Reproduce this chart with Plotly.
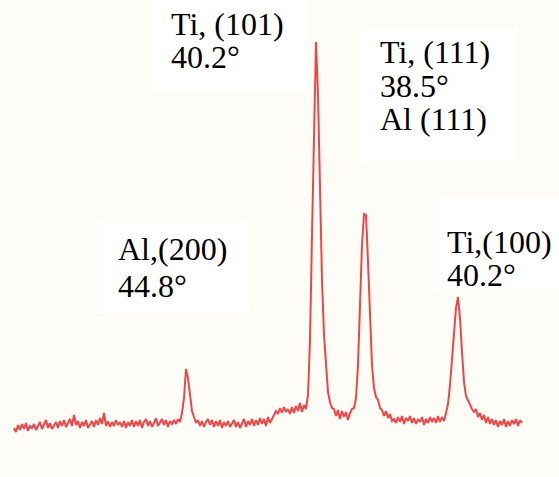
import numpy as np
import plotly.graph_objects as go

# Scan channel positions (uniform grid) and measured intensities (counts)
channel = np.arange(14, 523, 2)
intensity = [
    49, 45, 52, 47, 53, 48, 54, 46, 51, 49,
    53, 47, 51, 55, 48, 52, 57, 49, 54, 48,
    52, 55, 49, 56, 51, 57, 50, 54, 58, 51,
    62, 52, 56, 49, 55, 51, 57, 49, 53, 56,
    50, 57, 52, 59, 53, 64, 51, 56, 50, 55,
    51, 57, 52, 55, 50, 56, 49, 55, 51, 57,
    50, 56, 51, 57, 49, 55, 58, 51, 56, 50,
    54, 59, 51, 55, 58, 52, 57, 50, 56, 53,
    57, 53, 58, 55, 64, 79, 108, 99, 79, 66,
    60, 54, 57, 51, 56, 50, 55, 58, 52, 57,
    50, 56, 51, 57, 49, 55, 51, 56, 50, 54,
    57, 50, 55, 49, 54, 58, 50, 56, 52, 58,
    51, 57, 52, 59, 53, 58, 51, 60, 54, 59,
    62, 66, 63, 69, 64, 70, 65, 68, 63, 70,
    64, 71, 66, 74, 65, 72, 68, 82, 137, 242,
    357, 435, 382, 277, 197, 142, 107, 85, 75, 69,
    68, 61, 67, 58, 66, 60, 65, 57, 64, 68,
    69, 79, 112, 177, 232, 263, 262, 215, 157, 112,
    89, 80, 77, 69, 67, 61, 66, 59, 63, 56,
    58, 54, 60, 55, 61, 53, 59, 56, 61, 54,
    59, 53, 58, 55, 60, 52, 58, 54, 60, 55,
    59, 54, 61, 55, 60, 56, 64, 73, 92, 115,
    139, 169, 180, 159, 125, 95, 81, 76, 73, 68,
    65, 68, 60, 64, 57, 62, 54, 60, 53, 58,
    52, 57, 50, 56, 52, 58, 50, 56, 51, 57,
    53, 58, 51, 57, 54,
]

# Peak labels: (text lines, left x, line-centre heights)
peak_labels = [
    (["Ti, (101)", "40.2°"], 170, [453, 420]),
    (["Ti, (111)", "38.5°", "Al (111)"], 379, [425, 391, 358]),
    (["Ti,(100)", "40.2°"], 446, [235, 202]),
    (["Al,(200)", "44.8°"], 117, [228, 191]),
]

# White label panels: (x0, x1, y0, y1)
label_panels = [
    (152, 307, 385, 477),
    (358, 517, 315, 450),
    (433, 559, 187, 280),
    (97, 250, 164, 255),
]

W, H = 559, 477

fig = go.Figure()
fig.add_trace(go.Scatter(
    x=channel, y=intensity, mode="lines",
    line=dict(color="#e8484a", width=2),
    hoverinfo="skip", showlegend=False,
))

for x0, x1, y0, y1 in label_panels:
    fig.add_shape(type="rect", xref="x", yref="y", x0=x0, x1=x1, y0=y0, y1=y1,
                  fillcolor="white", line=dict(width=0), layer="below")

for lines, x_left, ys in peak_labels:
    for txt, yc in zip(lines, ys):
        fig.add_annotation(x=x_left, y=yc, xref="x", yref="y", text=txt,
                           showarrow=False, xanchor="left", yanchor="middle",
                           font=dict(family="Liberation Serif, Times New Roman, serif",
                                     size=32, color="black"),
                           borderpad=0)

fig.update_xaxes(range=[0, W], visible=False, fixedrange=True)
fig.update_yaxes(range=[0, H], visible=False, fixedrange=True)
fig.update_layout(
    width=W, height=H,
    margin=dict(l=0, r=0, t=0, b=0),
    paper_bgcolor="#fefcf7", plot_bgcolor="#fefcf7",
)

fig.write_html("out.html")
